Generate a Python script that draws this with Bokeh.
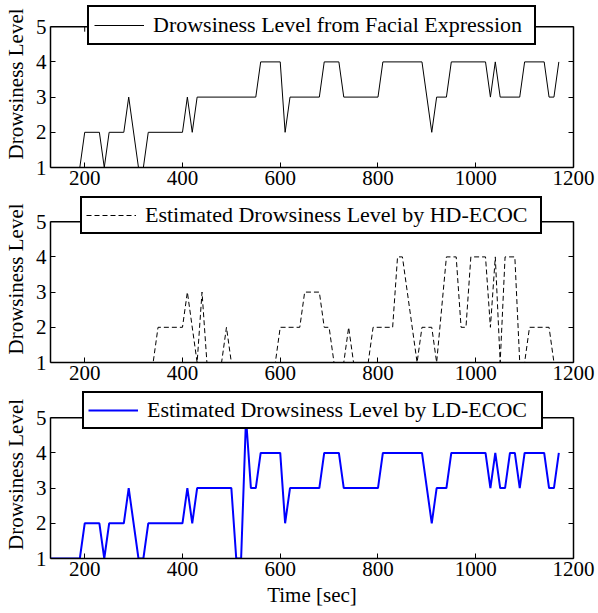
from bokeh.plotting import figure
from bokeh.models import Legend, LegendItem, LinearAxis, FixedTicker, Range1d, Span
from bokeh.layouts import column
from bokeh.embed import file_html
from bokeh.resources import INLINE

# ---- data (time in seconds, drowsiness level) ----
facial_t = [130, 190, 200, 230, 240, 250, 280, 290, 310, 320, 330, 400, 410, 420, 430, 550, 560, 600, 610, 620,
            680, 690, 720, 730, 800, 810, 890, 910, 920, 940, 950, 1020, 1030, 1040, 1050, 1090, 1100, 1140, 1150,
            1160, 1170]
facial_v = [1, 1, 2, 2, 1, 2, 2, 3, 1, 1, 2, 2, 3, 2, 3, 3, 4, 4, 2, 3,
            3, 4, 4, 3, 3, 4, 4, 2, 3, 3, 4, 4, 3, 4, 3, 3, 4, 4, 3,
            3, 4]

hd_t = [130, 340, 350, 400, 410, 430, 440, 450, 480, 490, 500, 590, 600, 640, 650, 680, 690, 700, 710, 730,
        740, 750, 780, 790, 830, 840, 850, 880, 890, 910, 920, 940, 960, 970, 980, 990, 1020, 1030, 1040, 1050,
        1060, 1080, 1090, 1100, 1110, 1150, 1160, 1170]
hd_v = [1, 1, 2, 2, 3, 1, 3, 1, 1, 2, 1, 1, 2, 2, 3, 3, 2, 2, 1, 1,
        2, 1, 1, 2, 2, 4, 4, 1, 2, 2, 1, 4, 4, 2, 2, 4, 4, 2, 4, 1,
        4, 4, 1, 1, 2, 2, 1, 1]

ld_t = [130, 190, 200, 230, 240, 250, 280, 290, 310, 320, 330, 400, 410, 420, 430, 500, 510, 520, 530, 540,
        550, 560, 600, 610, 620, 680, 690, 720, 730, 800, 810, 890, 910, 920, 940, 950, 1020, 1030, 1040, 1050,
        1060, 1070, 1080, 1090, 1100, 1140, 1150, 1160, 1170]
ld_v = [1, 1, 2, 2, 1, 2, 2, 3, 1, 1, 2, 2, 3, 2, 3, 3, 1, 1, 5, 3,
        3, 4, 4, 2, 3, 3, 4, 4, 3, 3, 4, 4, 2, 3, 3, 4, 4, 3, 4, 3,
        3, 4, 4, 3, 4, 4, 3, 3, 4]

x_ticks = [200, 400, 600, 800, 1000, 1200]
y_ticks = [1, 2, 3, 4, 5]
x_range = (130, 1200)

labels = ["Drowsiness Level from Facial Expression",
          "Estimated Drowsiness Level by HD-ECOC",
          "Estimated Drowsiness Level by LD-ECOC"]

FONT = "Liberation Serif"
PX_PER_LEVEL = 35.2


def make_panel(t, v, label, color, dash, lw, frame_h, top, bottom, legend_x, legend_bottom,
               pad, label_w, xlabel=None):
    ymin, ymax = y_ticks[0], y_ticks[-1]
    ytop = ymin + frame_h / PX_PER_LEVEL
    p = figure(frame_width=523, frame_height=frame_h,
               x_range=Range1d(*x_range), y_range=Range1d(ymin, ytop),
               output_backend="svg", toolbar_location=None,
               min_border_left=43, min_border_right=22,
               min_border_top=top, min_border_bottom=bottom,
               background_fill_color="white", border_fill_color="white")
    p.outline_line_color = None
    p.grid.visible = False

    r = p.line(t, v, line_color=color, line_width=lw, line_dash=dash)

    for ax in (p.xaxis[0], p.yaxis[0]):
        ax.major_tick_in = 5
        ax.major_tick_out = 0
        ax.minor_tick_line_color = None
        ax.axis_line_width = 1.5
        ax.major_tick_line_width = 1
        ax.major_label_text_font = FONT
        ax.major_label_text_font_size = "21px"
        ax.major_label_text_color = "black"
        ax.axis_label_text_font = FONT
        ax.axis_label_text_font_size = "21px"
        ax.axis_label_text_font_style = "normal"
        ax.axis_label_text_color = "black"
    p.xaxis[0].ticker = FixedTicker(ticks=x_ticks)
    p.yaxis[0].ticker = FixedTicker(ticks=y_ticks)
    p.yaxis[0].bounds = (ymin, ymax)
    p.xaxis[0].major_label_standoff = 3
    p.yaxis[0].major_label_standoff = 4
    p.yaxis[0].axis_label = "Drowsiness Level"
    p.yaxis[0].axis_label_standoff = 5
    if xlabel:
        p.xaxis[0].axis_label = xlabel
        p.xaxis[0].axis_label_standoff = 4

    right_ax = LinearAxis(ticker=FixedTicker(ticks=y_ticks), major_tick_in=5, major_tick_out=0,
                          minor_tick_line_color=None, major_label_text_font_size="0px",
                          axis_line_width=1.5, bounds=(ymin, ymax))
    p.add_layout(right_ax, "right")

    # top edge of the axes box with inward ticks
    p.add_layout(Span(location=ymax, dimension="width", line_color="black", line_width=1.5))
    tick_len = 5 / PX_PER_LEVEL
    p.segment(x0=x_ticks, y0=[ymax] * len(x_ticks), x1=x_ticks, y1=[ymax - tick_len] * len(x_ticks),
              line_color="black", line_width=1)

    leg = Legend(items=[LegendItem(label=label, renderers=[r])],
                 location=(legend_x, legend_bottom),
                 label_text_font=FONT, label_text_font_size="22px", label_text_color="black",
                 border_line_color="black", border_line_width=2, border_line_alpha=1.0,
                 background_fill_color="white", background_fill_alpha=1.0,
                 padding=pad, margin=0, spacing=0,
                 glyph_width=50, glyph_height=24, label_height=24, label_standoff=9,
                 label_width=label_w)
    p.add_layout(leg)
    return p


p1 = make_panel(facial_t, facial_v, labels[0], "black", "solid", 1, 167, 0, 28, 37, 122, 5, 376)
p2 = make_panel(hd_t, hd_v, labels[1], "black", "5 3", 1, 167, 0, 28, 30, 128, 4, 391)
p3 = make_panel(ld_t, ld_v, labels[2], "blue", "solid", 2, 168, 0, 53, 32, 129, 4, 390, xlabel="Time [sec]")

layout = column(p1, p2, p3, spacing=0)

open("out.html", "w").write(file_html(layout, INLINE))
